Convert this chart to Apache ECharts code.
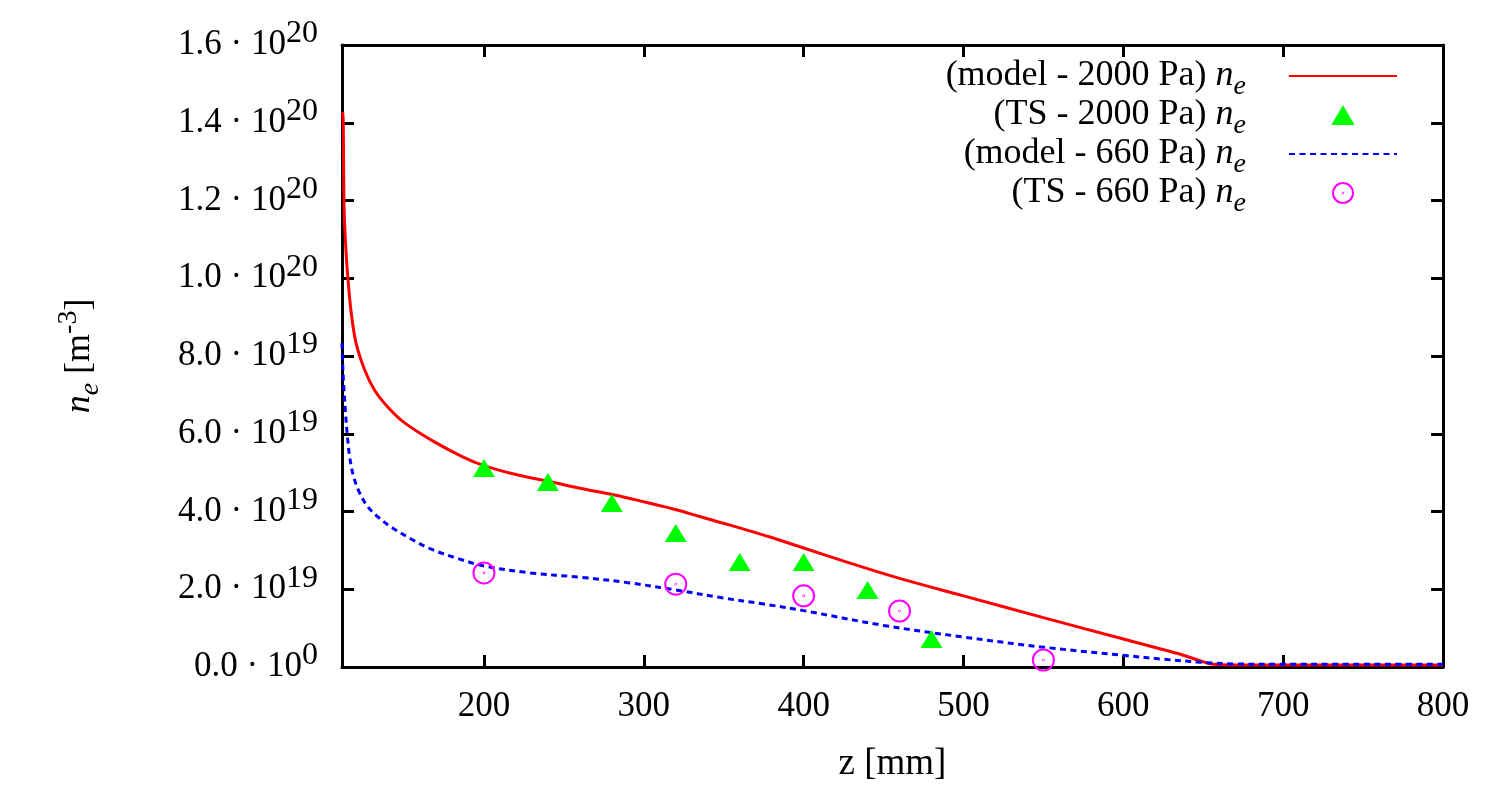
<!DOCTYPE html>
<html>
<head>
<meta charset="utf-8">
<script src="https://cdn.jsdelivr.net/npm/echarts@6/dist/echarts.min.js"></script>
<style>
  html, body { margin: 0; padding: 0; background: #fff; }
  #main { width: 1500px; height: 788px; }
</style>
</head>
<body>
<div id="main"></div>
<script>
// densities in units of 1e19 m^-3, z in mm
var model2000 = [
  [111.6, 14.28], [112, 14.0], [112.4, 12.0], [113, 11.25], [114, 10.5], [115, 9.95],
  [117, 9.1], [120, 8.33], [125.4, 7.64], [131.6, 7.12], [139.8, 6.69], [150.4, 6.28],
  [169, 5.79], [187, 5.4], [200, 5.18], [220, 4.95], [241, 4.77], [260, 4.6],
  [281, 4.43], [300, 4.25], [321, 4.04], [335, 3.87], [354, 3.65], [380, 3.33],
  [400, 3.06], [430, 2.66], [460, 2.28], [500, 1.83], [550, 1.27], [600, 0.72],
  [620, 0.5], [637, 0.31], [648, 0.16], [656, 0.07], [670, 0.05], [700, 0.05], [800, 0.05]
];
var model660 = [
  [111.2, 8.33], [111.6, 7.8], [112.2, 7.3], [113.5, 6.48], [114.5, 5.97], [116, 5.4],
  [118.5, 4.89], [122, 4.5], [127, 4.14], [134, 3.85], [142, 3.6], [155, 3.28],
  [167, 3.03], [183, 2.8], [200, 2.6], [229, 2.42], [260, 2.31], [290, 2.17],
  [320, 1.98], [349, 1.78], [375, 1.62], [400, 1.45], [450, 1.07], [500, 0.77],
  [550, 0.51], [600, 0.3], [625, 0.2], [649, 0.12], [668, 0.08], [700, 0.07], [800, 0.07]
];
var ts2000Z = [200, 240, 280, 320, 360, 400, 440, 480];
var ts2000N = [5.12, 4.76, 4.22, 3.45, 2.70, 2.70, 1.98, 0.72];
var ts660Z = [200, 320, 400, 460, 550];
var ts660N = [2.42, 2.13, 1.83, 1.44, 0.18];

var xTicks = [200, 300, 400, 500, 600, 700, 800];
var seriesNames = ['(model - 2000 Pa) ', '(TS - 2000 Pa) ', '(model - 660 Pa) ', '(TS - 660 Pa) '];

var FONT = '"Liberation Serif", "DejaVu Serif", serif';

function pairs(xs, ys) {
  return xs.map(function (x, i) { return [x, ys[i]]; });
}

function yLabel(v) {
  if (v === 0) return '{m|0.0 · 10}{s|0}';
  var real = v * 1e19;
  var e = Math.floor(Math.log10(real) + 1e-9);
  var m = real / Math.pow(10, e);
  return '{m|' + m.toFixed(1) + ' · 10}{s|' + e + '}';
}

var triangle = 'path://M50,0 L100,86 L0,86 Z';
// circle with a dot in the middle
var dotCircle = 'path://M0,50 A50,50 0 1,1 100,50 A50,50 0 1,1 0,50 Z M48.5,50 A1.5,1.5 0 1,1 51.5,50 A1.5,1.5 0 1,1 48.5,50 Z';

var chart = echarts.init(document.getElementById('main'));

var tickStyle = { inside: true, length: 12, lineStyle: { color: '#000', width: 3 } };
var axisLineStyle = { show: true, onZero: false, lineStyle: { color: '#000', width: 3 } };

// sub/superscript: padding shifts the glyph by half the padding
var sub = { fontFamily: FONT, fontSize: 28, fontStyle: 'italic', color: '#000', lineHeight: 10, verticalAlign: 'middle', padding: [22, 0, 0, 0] };
var sup = { fontFamily: FONT, fontSize: 28, color: '#000', lineHeight: 10, verticalAlign: 'middle', padding: [0, 0, 22, 0] };

var option = {
  backgroundColor: '#fff',
  animation: false,
  grid: { left: 342, right: 57, top: 45, bottom: 121 },
  legend: {
    orient: 'vertical',
    right: 102,
    top: 51,
    padding: 0,
    itemGap: -11,
    itemWidth: 108,
    itemHeight: 20,
    align: 'right',
    symbolKeepAspect: true,
    data: [
      { name: seriesNames[0], itemStyle: { opacity: 0 } },
      { name: seriesNames[1] },
      { name: seriesNames[2], itemStyle: { opacity: 0 } },
      { name: seriesNames[3] }
    ],
    formatter: function (name) {
      return '{t|' + name + '}{n|n}{e|e}';
    },
    textStyle: {
      rich: {
        t: { fontFamily: FONT, fontSize: 36, color: '#000', lineHeight: 38, verticalAlign: 'middle' },
        n: { fontFamily: FONT, fontSize: 36, fontStyle: 'italic', color: '#000', lineHeight: 38, verticalAlign: 'middle' },
        e: Object.assign({}, sub, { padding: [22, 38, 0, 0] })
      }
    }
  },
  xAxis: [
    {
      type: 'value',
      min: 111.2,
      max: 800,
      position: 'bottom',
      name: 'z [mm]',
      nameLocation: 'middle',
      nameGap: 79,
      nameTextStyle: { fontFamily: FONT, fontSize: 37, color: '#000' },
      axisLine: axisLineStyle,
      axisTick: Object.assign({ customValues: xTicks }, tickStyle),
      axisLabel: { customValues: xTicks, fontFamily: FONT, fontSize: 35, color: '#000', margin: 22 },
      splitLine: { show: false }
    },
    {
      type: 'value',
      min: 111.2,
      max: 800,
      position: 'top',
      axisLine: axisLineStyle,
      axisTick: Object.assign({ customValues: xTicks }, tickStyle),
      axisLabel: { show: false },
      splitLine: { show: false }
    }
  ],
  yAxis: [
    {
      type: 'value',
      min: 0,
      max: 16,
      interval: 2,
      position: 'left',
      name: '{n|n}{e|e}{t| [m}{s|-3}{t|]}',
      nameLocation: 'middle',
      nameGap: 242,
      nameRotate: 90,
      nameTextStyle: {
        rich: {
          n: { fontFamily: FONT, fontSize: 36, fontStyle: 'italic', color: '#000', lineHeight: 40, verticalAlign: 'middle' },
          e: sub,
          t: { fontFamily: FONT, fontSize: 36, color: '#000', lineHeight: 40, verticalAlign: 'middle' },
          s: sup
        }
      },
      axisLine: axisLineStyle,
      axisTick: tickStyle,
      axisLabel: {
        margin: 24,
        formatter: yLabel,
        rich: {
          m: { fontFamily: FONT, fontSize: 35, color: '#000', lineHeight: 42, verticalAlign: 'middle' },
          s: Object.assign({}, sup, { fontSize: 32, padding: [0, 0, 22, 0] })
        }
      },
      splitLine: { show: false }
    },
    {
      type: 'value',
      min: 0,
      max: 16,
      interval: 2,
      position: 'right',
      axisLine: axisLineStyle,
      axisTick: tickStyle,
      axisLabel: { show: false },
      splitLine: { show: false }
    }
  ],
  series: [
    {
      name: seriesNames[0],
      type: 'line',
      data: model2000,
      symbol: 'none',
      smooth: 0.35,
      lineStyle: { color: '#ff0000', width: 3 },
      itemStyle: { color: '#ff0000' }
    },
    {
      name: seriesNames[1],
      type: 'scatter',
      data: pairs(ts2000Z, ts2000N),
      symbol: triangle,
      symbolSize: [22, 18],
      symbolKeepAspect: false,
      itemStyle: { color: '#00ff00', opacity: 1 },
      z: 4
    },
    {
      name: seriesNames[2],
      type: 'line',
      data: model660,
      symbol: 'none',
      smooth: 0.35,
      lineStyle: { color: '#0000ff', width: 3, type: [6, 4.5] },
      itemStyle: { color: '#0000ff' }
    },
    {
      name: seriesNames[3],
      type: 'scatter',
      data: pairs(ts660Z, ts660N),
      symbol: dotCircle,
      symbolSize: 21,
      itemStyle: { color: 'rgba(0,0,0,0)', borderColor: '#ff00ff', borderWidth: 2, opacity: 1 },
      z: 4
    }
  ]
};

chart.setOption(option);
window.onresize = function () { chart.resize(); };
</script>
</body>
</html>
